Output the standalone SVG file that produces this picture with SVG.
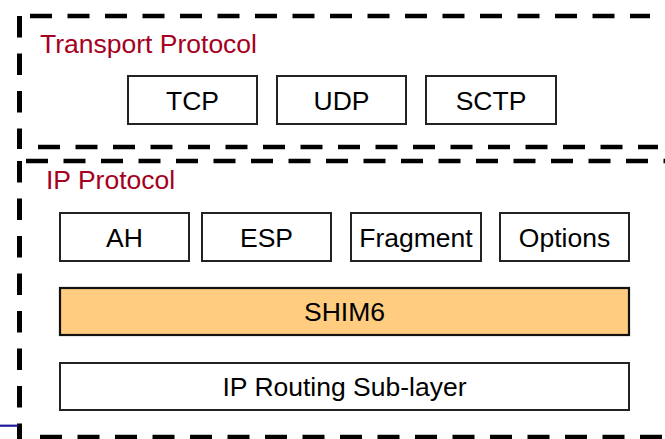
<svg xmlns="http://www.w3.org/2000/svg" width="665" height="439" viewBox="0 0 665 439">
<style>
.dash{stroke:#000;stroke-width:4.5;stroke-dasharray:22 15.5;fill:none}
.vdash{stroke:#000;stroke-width:5;stroke-dasharray:21.5 16;fill:none}
.box{fill:#fff;stroke:#222;stroke-width:2}
.shim{fill:#FFCC80;stroke:#111;stroke-width:2.2}
.lbl{font-family:"Liberation Sans",Arial,sans-serif;font-size:26.5px;fill:#000;text-anchor:middle}
.title{font-family:"Liberation Sans",Arial,sans-serif;font-size:26.5px;fill:#A50021}
</style>
<rect width="665" height="439" fill="#fff"/>
<g id="transport-layer">
  <line class="dash" x1="30" y1="16" x2="650" y2="16"/>
  <line class="dash" x1="38" y1="147" x2="658" y2="147"/>
  <line class="vdash" x1="19.5" y1="16" x2="19.5" y2="149"/>
  <text class="title" x="40" y="53">Transport Protocol</text>
</g>
<g id="ip-layer">
  <line class="dash" x1="26" y1="161" x2="665" y2="161"/>
  <line class="dash" x1="40" y1="437" x2="665" y2="437"/>
  <line class="vdash" x1="19.5" y1="161" x2="19.5" y2="439"/>
  <text class="title" x="46" y="189">IP Protocol</text>
</g>
<g id="tcp"><rect class="box" x="128" y="76" width="129" height="48"/><text class="lbl" x="192.5" y="110">TCP</text></g>
<g id="udp"><rect class="box" x="277" y="76" width="129" height="48"/><text class="lbl" x="341.5" y="110">UDP</text></g>
<g id="sctp"><rect class="box" x="426" y="76" width="130" height="48"/><text class="lbl" x="491" y="110">SCTP</text></g>
<g id="ah"><rect class="box" x="60" y="213" width="129" height="48"/><text class="lbl" x="124.5" y="246.5">AH</text></g>
<g id="esp"><rect class="box" x="202" y="213" width="129" height="48"/><text class="lbl" x="266.5" y="246.5">ESP</text></g>
<g id="fragment"><rect class="box" x="351" y="213" width="130" height="48"/><text class="lbl" x="416" y="246.5">Fragment</text></g>
<g id="options"><rect class="box" x="500" y="213" width="129" height="48"/><text class="lbl" x="564.5" y="246.5">Options</text></g>
<g id="shim6"><rect class="shim" x="60" y="288" width="569" height="47"/><text class="lbl" x="344.5" y="320.5">SHIM6</text></g>
<g id="ip-routing"><rect class="box" x="60" y="363" width="569" height="47"/><text class="lbl" x="344.5" y="395.5">IP Routing Sub-layer</text></g>
<g id="connectors">
  <line x1="0" y1="425.7" x2="18" y2="425.7" stroke="#1a1a9c" stroke-width="2.2"/>
</g>
</svg>
